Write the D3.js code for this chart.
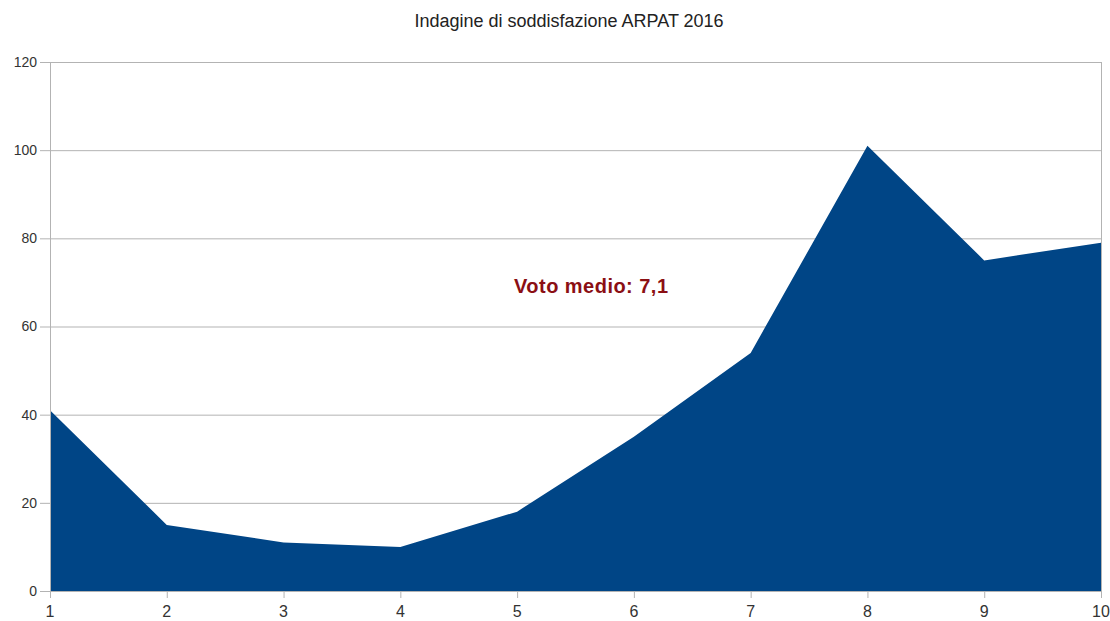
<!DOCTYPE html>
<html>
<head>
<meta charset="utf-8">
<script src="https://cdn.jsdelivr.net/npm/d3@7"></script>
<style>
  body { margin: 0; background: #fff; }
  text { font-family: "Liberation Sans", Arial, sans-serif; }
</style>
</head>
<body>
<div id="chart"></div>
<script>
// survey scores (vote 1..10) and number of answers
var voti = [1, 2, 3, 4, 5, 6, 7, 8, 9, 10];
var risposte = [41, 15, 11, 10, 18, 35, 54, 101, 75, 79];
var yTicks = [0, 20, 40, 60, 80, 100, 120];
var titolo = "Indagine di soddisfazione ARPAT 2016";
var nota = "Voto medio: 7,1";

var width = 1110, height = 621;
var margin = { top: 62, right: 9, bottom: 30, left: 50 };

var svg = d3.select("#chart")
  .append("svg")
  .attr("width", width)
  .attr("height", height);

var x = d3.scaleLinear()
  .domain([1, 10])
  .range([margin.left, width - margin.right]);

var y = d3.scaleLinear()
  .domain([0, 120])
  .range([height - margin.bottom, margin.top]);

// gridlines (with the small tick stub on the left)
svg.append("g")
  .selectAll("line")
  .data(yTicks)
  .enter()
  .append("line")
  .attr("x1", margin.left - 10)
  .attr("x2", width - margin.right)
  .attr("y1", (d) => y(d) + 0.5)
  .attr("y2", (d) => y(d) + 0.5)
  .attr("stroke", "#b3b3b3")
  .attr("stroke-width", 1);

// right border
svg.append("line")
  .attr("x1", width - margin.right + 0.5)
  .attr("x2", width - margin.right + 0.5)
  .attr("y1", y(120))
  .attr("y2", y(0))
  .attr("stroke", "#b3b3b3");

var area = d3.area()
  .x((d, i) => x(voti[i]))
  .y0(y(0))
  .y1((d) => y(d));

svg.append("path")
  .datum(risposte)
  .attr("fill", "#004586")
  .attr("d", area);

// y axis
svg.append("line")
  .attr("x1", margin.left + 0.5)
  .attr("x2", margin.left + 0.5)
  .attr("y1", y(120))
  .attr("y2", y(0) + 7)
  .attr("stroke", "#b3b3b3");

svg.append("g")
  .selectAll("text")
  .data(yTicks)
  .enter()
  .append("text")
  .attr("x", margin.left - 13)
  .attr("y", (d) => y(d))
  .attr("dy", "0.35em")
  .attr("text-anchor", "end")
  .attr("font-size", 14)
  .attr("fill", "#333")
  .text((d) => d);

// x axis
svg.append("line")
  .attr("x1", margin.left)
  .attr("x2", width - margin.right)
  .attr("y1", y(0) + 0.5)
  .attr("y2", y(0) + 0.5)
  .attr("stroke", "#b3b3b3");

var xt = svg.append("g")
  .selectAll("g")
  .data(voti)
  .enter()
  .append("g");

xt.append("line")
  .attr("x1", (d) => x(d) + 0.5)
  .attr("x2", (d) => x(d) + 0.5)
  .attr("y1", y(0))
  .attr("y2", y(0) + 7)
  .attr("stroke", "#b3b3b3");

xt.append("text")
  .attr("x", (d) => x(d))
  .attr("y", y(0) + 26)
  .attr("text-anchor", "middle")
  .attr("font-size", 16)
  .attr("fill", "#333")
  .text((d) => d);

// title
svg.append("text")
  .attr("x", 569)
  .attr("y", 27)
  .attr("text-anchor", "middle")
  .attr("font-size", 18)
  .attr("fill", "#222")
  .text(titolo);

// annotation
svg.append("text")
  .attr("x", 514)
  .attr("y", 293)
  .attr("font-size", 20)
  .attr("textLength", 154)
  .attr("font-weight", "bold")
  .attr("fill", "#8b0f14")
  .text(nota);
</script>
</body>
</html>
